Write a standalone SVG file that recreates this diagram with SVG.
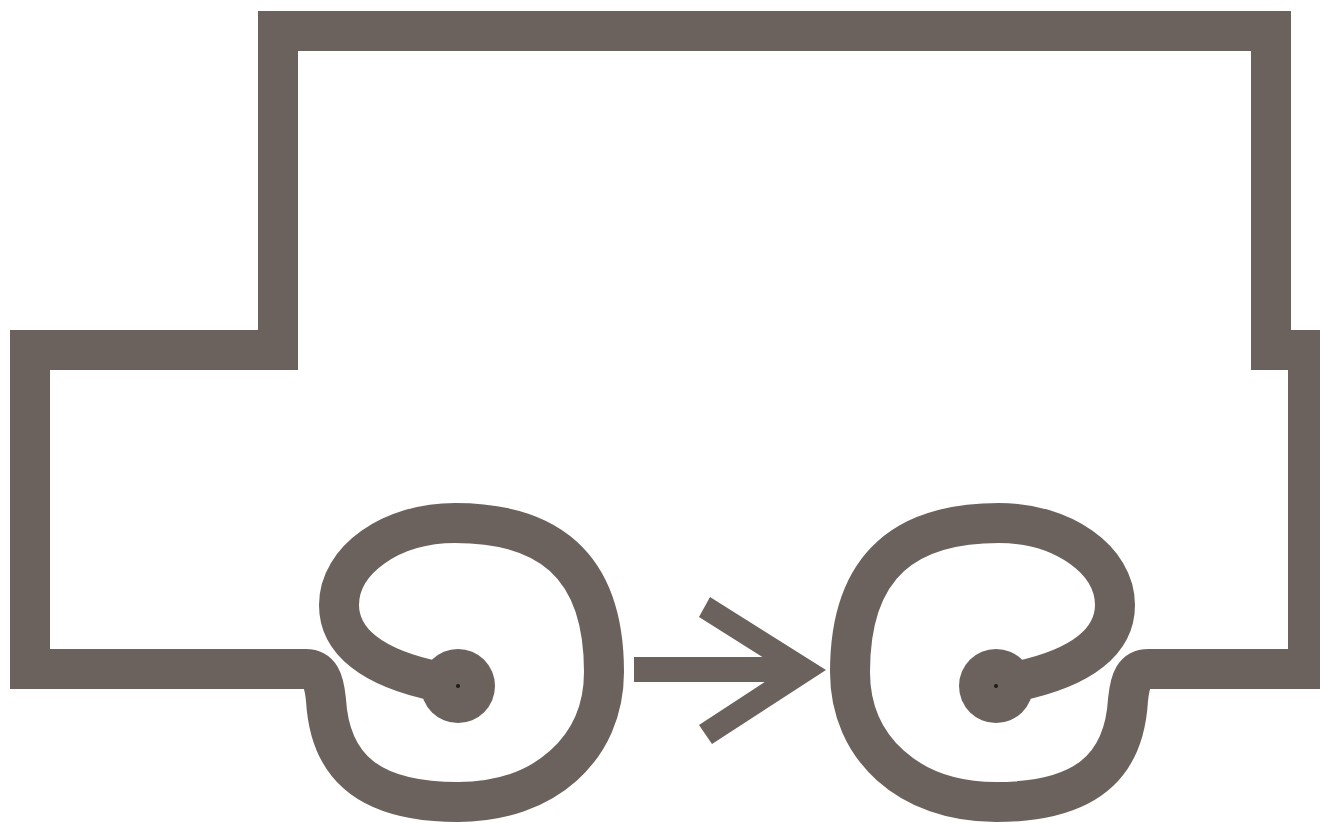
<svg xmlns="http://www.w3.org/2000/svg" width="1320" height="823" viewBox="0 0 1320 823">
<defs>
<style>
.s{fill:none;stroke:#6b625d;stroke-width:40;stroke-linejoin:miter;stroke-linecap:butt}
.f{fill:#6b625d}
.dot{fill:#1a1a1a}
</style>
<g id="wheelShape">
<path class="s" d="M290,669 L305,669 C320,669 324,680 326,700 C330,768 370,802 458,802 C545,802 604,748 604,672 C604,562 545,523 455,523 C391,523 339,560 339,605 C339,640 370,668 440,682 L458,686"/>
<circle class="f" cx="458" cy="686" r="37"/>
<circle class="dot" cx="458" cy="686" r="2"/>
</g>
</defs>
<rect width="1320" height="823" fill="#ffffff"/>
<g id="body">
<path class="s" d="M1271,370 L1271,31 L278,31 L278,350 L30,350 L30,669 L292,669"/>
<path class="s" d="M1308,330 L1308,669 L1162,669"/>
</g>
<g id="wheel-left">
<use href="#wheelShape"/>
</g>
<g id="wheel-right" transform="translate(1454,0) scale(-1,1)">
<use href="#wheelShape"/>
</g>
<g id="connectors">
<rect class="f" x="634" y="657" width="160" height="25"/>
<polygon class="f" points="710,597 826,670 712,744 699,725 783,670 699,617"/>
</g>
</svg>
